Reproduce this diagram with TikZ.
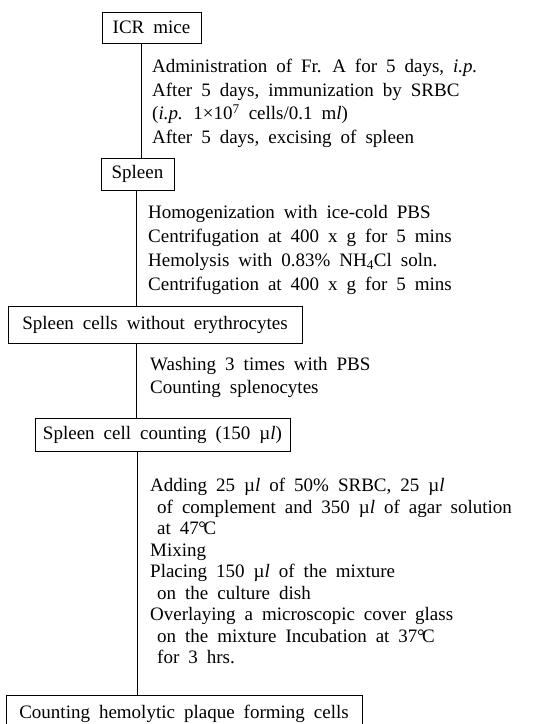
\documentclass[tikz,border=0pt]{standalone}
\usepackage{fontspec}
\setmainfont{Liberation Serif}
\newcommand{\ul}{\textmu\textit{l}}
\newcommand{\degC}{{\kern-0.5pt°\kern-2.5pt}C}
\newcommand{\fsz}[1]{\fontsize{19}{#1}\selectfont\spaceskip=9pt plus 1pt minus 1pt\relax}
\begin{document}
\begin{tikzpicture}[x=1pt,y=-1pt,
  every node/.style={font=\fsz{23.5}},
  box/.style={draw,line width=0.9pt,inner sep=0pt},
  txt/.style={anchor=north west,inner sep=0pt,align=left},
  link/.style={line width=0.9pt}]
\useasboundingbox (0,0) rectangle (537,724);
\node[box,minimum width=99pt,minimum height=31pt] (icr) at (151.5,27.5) {ICR mice};
\node[box,minimum width=73pt,minimum height=32pt] (spleen) at (137.5,174) {Spleen};
\node[box,minimum width=294pt,minimum height=37pt] (cells) at (155,324.5) {Spleen cells without erythrocytes};
\node[box,minimum width=255pt,minimum height=33pt] (count) at (162.5,434.5) {Spleen cell counting (150 \ul)};
\node[box,minimum width=356pt,minimum height=38pt] (pfc) at (184,714) {Counting hemolytic plaque forming cells};

\node[txt] (t1) at (152,59) {Administration of Fr. A for 5 days, \textit{i.p.}\\
After 5 days, immunization by SRBC\\
(\textit{i.p.} 1×10\textsuperscript{7} cells/0.1 m\textit{l})\\
After 5 days, excising of spleen};
\node[txt,font=\fsz{24}] (t2) at (148,205) {Homogenization with ice-cold PBS\\
Centrifugation at 400 x g for 5 mins\\
Hemolysis with 0.83\% NH\textsubscript{4}Cl soln.\\
Centrifugation at 400 x g for 5 mins};
\node[txt,font=\fsz{23}] (t3) at (150,357) {Washing 3 times with PBS\\
Counting splenocytes};
\node[txt,font=\fsz{21.5}] (t4) at (150,478) {Adding 25 \ul{} of 50\% SRBC, 25 \ul\\
\hspace*{7pt}of complement and 350 \ul{} of agar solution\\
\hspace*{7pt}at 47\degC\\
Mixing\\
Placing 150 \ul{} of the mixture\\
\hspace*{7pt}on the culture dish\\
Overlaying a microscopic cover glass\\
\hspace*{7pt}on the mixture Incubation at 37\degC\\
\hspace*{7pt}for 3 hrs.};

\coordinate (l1) at (141,0);
\coordinate (l2) at (136,0);
\coordinate (l4) at (137,0);
\draw[link] (icr.south -| l1) -- (spleen.north -| l1);
\draw[link] (spleen.south -| l2) -- (cells.north -| l2);
\draw[link] (cells.south -| l2) -- (count.north -| l2);
\draw[link] (count.south -| l4) -- (pfc.north -| l4);
\end{tikzpicture}
\end{document}
